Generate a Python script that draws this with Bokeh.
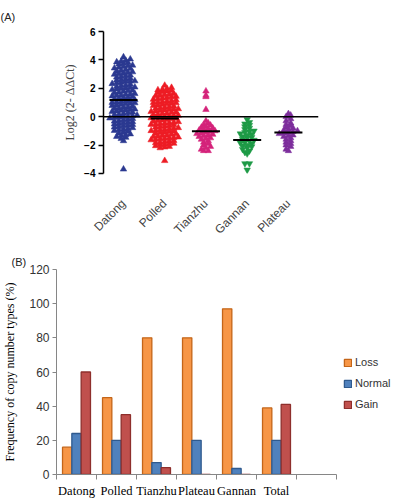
import math
import numpy as np
from bokeh.plotting import figure
from bokeh.models import Range1d, FixedTicker, Span, Legend, LegendItem
from bokeh.embed import file_html
from bokeh.resources import INLINE

# ---------------- Panel A data ----------------
groups = ["Datong", "Polled", "Tianzhu", "Gannan", "Plateau"]

datong = [4.2, 4.05,
          3.95, 3.9, 3.85, 3.8, 3.75, 3.7, 3.62, 3.58, 3.52,
          3.48, 3.42, 3.38, 3.3, 3.25, 3.2, 3.15, 3.1, 3.05, 3.02,
          2.98, 2.92, 2.88, 2.82, 2.78, 2.7, 2.65, 2.6, 2.58, 2.52, 2.5,
          2.48, 2.42, 2.38, 2.32, 2.28, 2.22, 2.18, 2.12, 2.08, 2.04, 2.01,
          1.98, 1.94, 1.9, 1.85, 1.82, 1.78, 1.72, 1.68, 1.62, 1.58, 1.55, 1.51,
          1.48, 1.45, 1.4, 1.36, 1.32, 1.28, 1.22, 1.18, 1.14, 1.1, 1.06, 1.03, 1.0,
          0.97, 0.94, 0.9, 0.86, 0.82, 0.78, 0.72, 0.68, 0.64, 0.6, 0.56, 0.53, 0.5,
          0.47, 0.44, 0.4, 0.36, 0.32, 0.28, 0.22, 0.18, 0.14, 0.1, 0.06, 0.03, 0.01,
          -0.03, -0.07, -0.1, -0.14, -0.18, -0.22, -0.28, -0.32, -0.36, -0.4, -0.44, -0.48,
          -0.52, -0.56, -0.6, -0.65, -0.7, -0.74, -0.78, -0.84, -0.88, -0.93, -0.98,
          -1.04, -1.1, -1.16, -1.22, -1.28, -1.34, -1.4, -1.46,
          -1.55, -1.7,
          -3.7]

polled = [2.2, 2.05,
          1.98, 1.92, 1.88, 1.84, 1.8, 1.74, 1.68, 1.62, 1.58, 1.54, 1.5,
          1.47, 1.43, 1.4, 1.35, 1.3, 1.26, 1.22, 1.18, 1.13, 1.1, 1.06, 1.03, 1.0,
          0.97, 0.93, 0.9, 0.86, 0.82, 0.78, 0.74, 0.7, 0.66, 0.62, 0.58, 0.55, 0.52, 0.5,
          0.47, 0.43, 0.4, 0.36, 0.32, 0.28, 0.24, 0.2, 0.16, 0.12, 0.09, 0.06, 0.03, 0.01,
          -0.02, -0.05, -0.09, -0.12, -0.16, -0.2, -0.24, -0.28, -0.32, -0.36, -0.4, -0.43, -0.46, -0.49,
          -0.52, -0.55, -0.58, -0.62, -0.66, -0.7, -0.74, -0.78, -0.82, -0.86, -0.9, -0.93, -0.96, -0.99,
          -1.02, -1.05, -1.09, -1.13, -1.17, -1.21, -1.25, -1.29, -1.33, -1.37, -1.41, -1.44, -1.47, -1.5,
          -1.53, -1.56, -1.6, -1.64, -1.68, -1.72, -1.76, -1.8, -1.84, -1.88, -1.92, -1.95, -1.98,
          -2.05, -2.1, -2.15, -2.2,
          -3.1]

tianzhu = [1.8, 1.5, 1.4, 0.5, -0.3, -0.45, -0.55, -0.6, -0.7, -0.75, -0.8, -0.85, -0.9,
           -0.95, -1.0, -1.05, -1.1, -1.15, -1.2, -1.25, -1.3, -1.35, -1.4, -1.5, -1.55,
           -1.6, -1.7, -1.8, -1.9, -2.0, -2.1, -2.2, -2.3, -2.4, -2.4]

gannan = [-0.2, -0.4, -0.5, -0.6, -0.7, -0.8, -0.9, -1.0, -1.05, -1.1, -1.2, -1.25, -1.3,
          -1.4, -1.45, -1.5, -1.6, -1.65, -1.7, -1.8, -1.85, -1.9, -2.0, -2.05, -2.1, -2.2,
          -2.3, -2.4, -2.5, -2.6, -3.3, -3.3, -3.75]

plateau = [0.2, 0.1, 0.0, -0.15, -0.3, -0.45, -0.55, -0.65, -0.75, -0.8, -0.9, -0.95, -1.0,
           -1.05, -1.1, -1.15, -1.2, -1.3, -1.35, -1.4, -1.5, -1.6, -1.7, -1.8, -1.9, -2.0,
           -2.1, -2.3, -2.4]

group_values = [datong, polled, tianzhu, gannan, plateau]
group_colors = ["#2B3990", "#ED1C24", "#D4237A", "#1E9A46", "#7D2E9C"]
group_markers = ["triangle", "triangle", "triangle", "inverted_triangle", "triangle"]
y_ticks_a = [-4, -2, 0, 2, 4, 6]

# ---------------- Panel B data ----------------
bar_categories = ["Datong", "Polled", "Tianzhu", "Plateau", "Gannan", "Total", ""]
loss = [16, 45, 80, 80, 97, 39]
normal = [24, 20, 7, 20, 3.5, 20]
gain = [60, 35, 4, 0, 0, 41]
series_names = ["Loss", "Normal", "Gain"]
series_fill = ["#F79646", "#4F81BD", "#C0504D"]
series_line = ["#C46518", "#2F5A8E", "#8E2F2C"]
y_ticks_b = [0, 20, 40, 60, 80, 100, 120]


def swarm(vals, step=0.22, dx=0.11):
    """Deterministic beeswarm offsets: points in the same y-row are spread sideways."""
    v = np.asarray(vals, float)
    bins = np.round(v / step).astype(int)
    off = np.zeros(len(v))
    for b in np.unique(bins):
        idx = np.where(bins == b)[0]
        idx = idx[np.argsort(v[idx])]
        n = len(idx)
        off[idx] = (np.arange(n) - (n - 1) / 2.0) * dx
    return off


# ================= Panel A =================
p1 = figure(frame_width=215, frame_height=142, output_backend="svg", toolbar_location=None,
            x_range=Range1d(-0.485, 4.73), y_range=Range1d(-4.001, 6.001),
            min_border_left=103, min_border_right=69, min_border_top=31, min_border_bottom=60,
            title="(A)")
p1.outline_line_color = None
p1.xgrid.visible = False
p1.ygrid.visible = False
p1.title.align = "left"
p1.title.offset = -103
p1.title.standoff = 17
p1.title.text_font = "Liberation Sans"
p1.title.text_font_style = "normal"
p1.title.text_font_size = "11px"
p1.title.text_color = "#222222"

for i, (vals, col, mk) in enumerate(zip(group_values, group_colors, group_markers)):
    xs = i + swarm(vals)
    p1.scatter(xs, vals, marker=mk, size=6.5, fill_color=col, line_color=col, line_width=0.5)
    m = float(np.mean(vals))
    p1.segment(x0=[i - 0.34], x1=[i + 0.34], y0=[m], y1=[m], line_color="black", line_width=2)

p1.add_layout(Span(location=0, dimension="width", line_color="black", line_width=1.5))

ya = p1.yaxis[0]
ya.ticker = FixedTicker(ticks=y_ticks_a)
ya.axis_line_width = 1.5
ya.axis_line_color = "black"
ya.major_tick_out = 5
ya.major_tick_in = 0
ya.major_tick_line_width = 1.5
ya.minor_tick_line_color = None
ya.major_label_text_font = "Liberation Sans"
ya.major_label_text_font_style = "bold"
ya.major_label_text_font_size = "10px"
ya.major_label_text_color = "black"
ya.major_label_standoff = 3
ya.axis_label = "Log2 (2- \u0394\u0394Ct)"
ya.axis_label_text_font = "Liberation Serif"
ya.axis_label_text_font_style = "normal"
ya.axis_label_text_font_size = "12px"
ya.axis_label_text_color = "#444444"
ya.axis_label_standoff = 4

xa = p1.xaxis[0]
xa.ticker = FixedTicker(ticks=list(range(len(groups))))
xa.major_label_overrides = {i: g for i, g in enumerate(groups)}
xa.major_label_orientation = math.pi / 4
xa.axis_line_color = None
xa.major_tick_line_color = None
xa.minor_tick_line_color = None
xa.major_label_standoff = 22
xa.major_label_text_font = "Liberation Sans"
xa.major_label_text_font_size = "12px"
xa.major_label_text_color = "#444444"

# ================= Panel B =================
p2 = figure(frame_width=280, frame_height=205, output_backend="svg", toolbar_location=None,
            x_range=Range1d(0, 7), y_range=Range1d(0, 120.01),
            min_border_left=50, min_border_right=57, min_border_top=25, min_border_bottom=18,
            title="(B)")
p2.outline_line_color = None
p2.xgrid.visible = False
p2.ygrid.visible = False
p2.title.align = "left"
p2.title.offset = -45
p2.title.standoff = 4
p2.title.text_font = "Liberation Sans"
p2.title.text_font_style = "normal"
p2.title.text_font_size = "11px"
p2.title.text_color = "#222222"

bw = 0.233
items = []
for k, (vals, fc, lc, name) in enumerate(zip([loss, normal, gain], series_fill, series_line, series_names)):
    xs = [i + 0.5 + (k - 1) * bw for i in range(len(vals))]
    r = p2.vbar(x=xs, top=vals, width=bw, bottom=0, fill_color=fc, line_color=lc, line_width=1.3)
    items.append(LegendItem(label=name, renderers=[r]))

yb = p2.yaxis[0]
yb.ticker = FixedTicker(ticks=y_ticks_b)
yb.axis_line_color = "#868686"
yb.major_tick_line_color = "#868686"
yb.major_tick_out = 4
yb.major_tick_in = 0
yb.minor_tick_line_color = None
yb.major_label_text_font = "Liberation Sans"
yb.major_label_text_font_size = "12px"
yb.major_label_text_color = "#333333"
yb.major_label_standoff = 3
yb.axis_label = "Frequency of copy number types (%)"
yb.axis_label_text_font = "Liberation Serif"
yb.axis_label_text_font_style = "normal"
yb.axis_label_text_font_size = "12px"
yb.axis_label_text_color = "black"
yb.axis_label_standoff = 9

xb = p2.xaxis[0]
xb.ticker = FixedTicker(ticks=[i + 0.5 for i in range(len(bar_categories))],
                        minor_ticks=list(range(len(bar_categories) + 1)))
xb.major_label_overrides = {i + 0.5: c for i, c in enumerate(bar_categories)}
xb.axis_line_color = "#868686"
xb.major_tick_line_color = None
xb.minor_tick_line_color = "#868686"
xb.minor_tick_out = 5
xb.minor_tick_in = 0
xb.major_label_standoff = 3
xb.major_label_text_font = "Liberation Serif"
xb.major_label_text_font_size = "12.5px"
xb.major_label_text_color = "black"

legend = Legend(items=items, location=(7, 63), padding=0, margin=0, spacing=7,
                glyph_width=9, glyph_height=9, label_height=14, label_standoff=3,
                label_text_font="Liberation Sans", label_text_font_size="11px",
                label_text_color="#333333", border_line_color=None,
                background_fill_alpha=0)
p2.add_layout(legend, "right")

open("out.html", "w").write(file_html([p1, p2], INLINE))
